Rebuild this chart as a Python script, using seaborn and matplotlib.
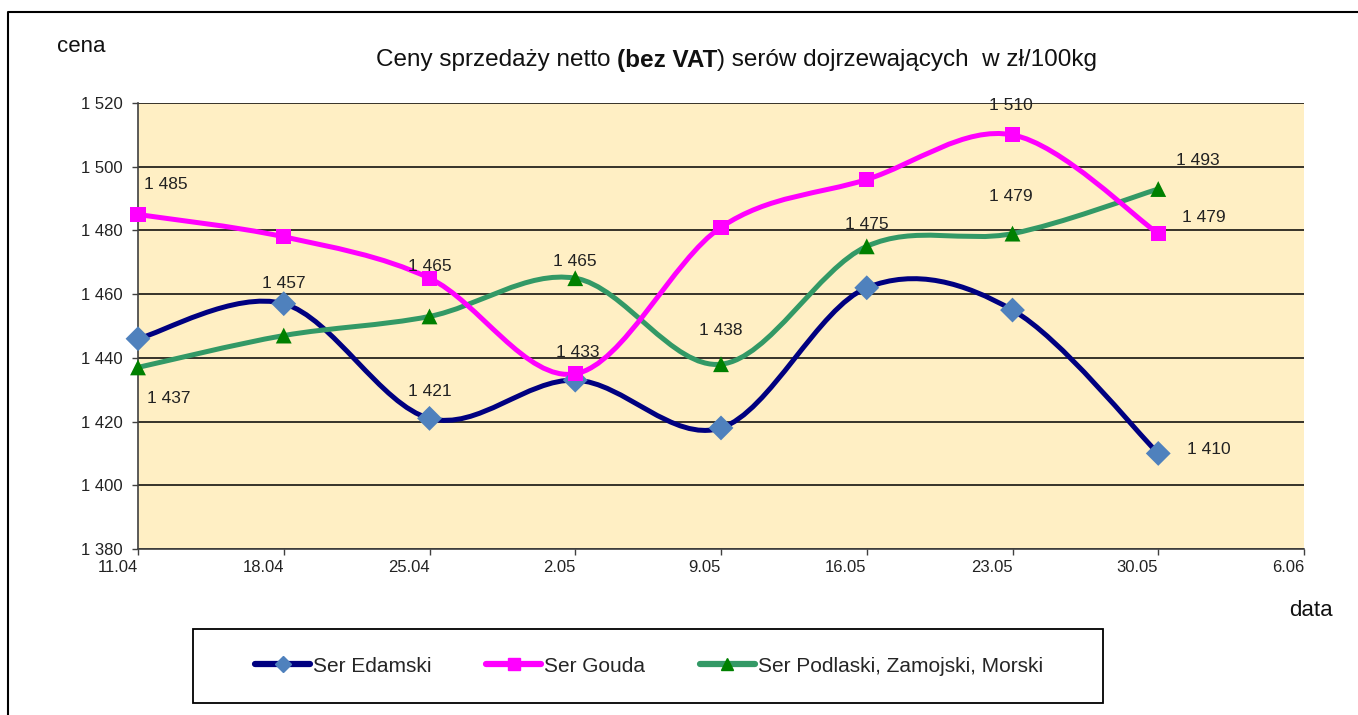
import numpy as np
import pandas as pd
import matplotlib
matplotlib.use("Agg")
import matplotlib.pyplot as plt
import seaborn as sns
from matplotlib.path import Path
from matplotlib.patches import PathPatch, Rectangle
from matplotlib.lines import Line2D

# data (zł/100kg, netto)
dates = ["11.04", "18.04", "25.04", "2.05", "9.05", "16.05", "23.05", "30.05", "6.06"]
edamski = [1446, 1457, 1421, 1433, 1418, 1462, 1455, 1410]
gouda = [1485, 1478, 1465, 1435, 1481, 1496, 1510, 1479]
podlaski = [1437, 1447, 1453, 1465, 1438, 1475, 1479, 1493]
series_names = ["Ser Edamski", "Ser Gouda", "Ser Podlaski, Zamojski, Morski"]
y_ticks = [1380, 1400, 1420, 1440, 1460, 1480, 1500, 1520]

# which points carry a value label, and where the label sits (pixel offset)
edamski_labels = {1: (0, 20), 2: (0, 27), 3: (2, 28), 7: (51, 4)}
gouda_labels = {0: (28, 30), 2: (0, 12), 6: (-2, 29), 7: (46, 16)}
podlaski_labels = {0: (31, -31), 3: (0, 17), 4: (0, 34), 5: (0, 22), 6: (-2, 37), 7: (40, 29)}

sns.set_style("white")
plt.rcParams["font.family"] = ["Liberation Sans", "DejaVu Sans"]

W, H = 1358, 715
fig = plt.figure(figsize=(W / 100, H / 100), dpi=100)
ax = fig.add_axes([138 / W, 1 - 549 / H, 1166 / W, 446 / H])
ax.set_facecolor("#FFEFC4")


def smooth_path(xs, ys):
    # Excel-like smoothed line: cubic bezier through the points
    pts = np.column_stack([xs, ys]).astype(float)
    n = len(pts)
    verts = [tuple(pts[0])]
    codes = [Path.MOVETO]
    for i in range(n - 1):
        p0 = pts[max(i - 1, 0)]
        p1 = pts[i]
        p2 = pts[i + 1]
        p3 = pts[min(i + 2, n - 1)]
        c1 = p1 + (p2 - p0) / 6
        c2 = p2 - (p3 - p1) / 6
        verts += [tuple(c1), tuple(c2), tuple(p2)]
        codes += [Path.CURVE4] * 3
    return Path(verts, codes)


styles = [
    dict(line="#000080", marker="D", mcolor="#4F81BD", s=160, ms=8),
    dict(line="#FF00FF", marker="s", mcolor="#FF00FF", s=120, ms=8),
    dict(line="#339966", marker="^", mcolor="#008000", s=130, ms=8),
]
values = [edamski, gouda, podlaski]
labels = [edamski_labels, gouda_labels, podlaski_labels]
line_z = [3, 5, 4]

frames = []
for name, vals in zip(series_names, values):
    frames.append(pd.DataFrame({"pos": range(len(vals)), "cena": vals, "ser": name}))
df = pd.concat(frames, ignore_index=True)

for (name, vals, st, lab, z) in zip(series_names, values, styles, labels, line_z):
    sub = df[df["ser"] == name]
    patch = PathPatch(smooth_path(sub["pos"].values, sub["cena"].values), fill=False,
                      edgecolor=st["line"], lw=3.6, zorder=z, capstyle="round",
                      joinstyle="round", clip_on=False)
    ax.add_patch(patch)
    sns.scatterplot(data=sub, x="pos", y="cena", marker=st["marker"], color=st["mcolor"],
                    s=st["s"], edgecolor="none", linewidth=0, zorder=6, clip_on=False,
                    ax=ax, legend=False)
    for i, (dx, dy) in lab.items():
        ax.annotate(f"{vals[i]:,}".replace(",", " "), xy=(i, vals[i]), xytext=(dx, dy),
                    textcoords="offset pixels", ha="center", va="center",
                    fontsize=12.5, color="#222222", zorder=7)

ax.set_xlim(0, len(dates) - 1)
ax.set_ylim(y_ticks[0], y_ticks[-1])
ax.set_xticks(range(len(dates)))
ax.set_xticklabels(dates, ha="right")
ax.set_yticks(y_ticks)
ax.set_yticklabels([f"{t:,}".replace(",", " ") for t in y_ticks])
ax.set_xlabel("")
ax.set_ylabel("")
ax.yaxis.grid(True, color="black", lw=1.1)
ax.xaxis.grid(False)
ax.set_axisbelow(True)
for side in ["top", "right"]:
    ax.spines[side].set_visible(False)
for side in ["left", "bottom"]:
    ax.spines[side].set_color("#404040")
    ax.spines[side].set_linewidth(1.2)
ax.tick_params(axis="y", direction="out", length=4, width=1, color="#404040",
               labelsize=12, labelcolor="#222222", pad=7, left=True)
ax.tick_params(axis="x", direction="out", length=4, width=1, color="#404040",
               labelsize=12, labelcolor="#222222", pad=4, bottom=True)

# title with bold part
renderer = fig.canvas.get_renderer()
title_size = 17.5
parts = [("Ceny sprzedaży netto", "normal"), ("(bez VAT", "bold"),
         (") serów dojrzewających  w zł/100kg", "normal")]
gaps = [True, False, False]
space_w = (fig.text(0, 0, "a a", fontsize=title_size).get_window_extent(renderer).width
           - fig.text(0, 0, "aa", fontsize=title_size).get_window_extent(renderer).width)
for t in fig.texts[:]:
    t.remove()
title_texts = [fig.text(0, 1 - 60 / H, s, fontsize=title_size, fontweight=w, va="center",
                        ha="left", color="#111111") for s, w in parts]
widths = [t.get_window_extent(renderer).width for t in title_texts]
total = sum(widths) + space_w
x = 736.5 - total / 2
for t, w, g in zip(title_texts, widths, gaps):
    t.set_x(x / W)
    x += w + (space_w if g else 0)

fig.text(57 / W, 1 - 47 / H, "cena", fontsize=16, ha="left", va="center", color="#111111")
fig.text(1311 / W, 1 - 611 / H, "data", fontsize=16, ha="center", va="center", color="#111111")

# legend with its own box
handles = [Line2D([], [], color=st["line"], lw=4.5, marker=st["marker"], markersize=st["ms"],
                  markerfacecolor=st["mcolor"], markeredgecolor=st["mcolor"])
           for st in styles]
fig.patches.append(Rectangle((193 / W, 1 - 703 / H), 910 / W, 74 / H, transform=fig.transFigure,
                             fill=False, edgecolor="black", lw=1.3))
fig.legend(handles, series_names, loc="center", bbox_to_anchor=(649 / W, 1 - 666 / H),
           ncol=3, frameon=False, fontsize=15, handlelength=2.65, handletextpad=0.15,
           columnspacing=2.6)

# outer chart frame
fig.add_artist(Line2D([8 / W, 8 / W, 1], [0, 1 - 12 / H, 1 - 12 / H], color="black", lw=1.5,
                      transform=fig.transFigure))

fig.savefig("out.png", dpi=100)
